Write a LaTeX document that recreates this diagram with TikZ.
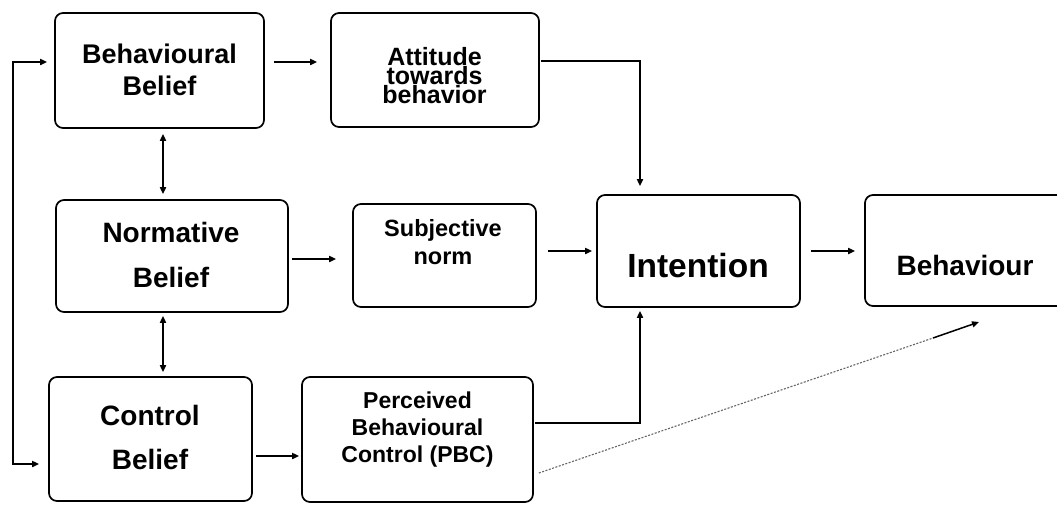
\documentclass[tikz,border=0pt]{standalone}
\usepackage{fontspec}
\setmainfont{Liberation Sans}
\usetikzlibrary{arrows.meta}
\tikzset{
  box/.style={draw=black, line width=1.7pt, rounded corners=8pt, fill=white, inner sep=0pt},
  lbl/.style={align=center, inner sep=0pt, font=\bfseries},
  arr/.style={line width=1.7pt, -{Triangle[length=7pt,width=6pt]}},
  darr/.style={line width=1.7pt, {Triangle[length=7pt,width=6pt]}-{Triangle[length=7pt,width=6pt]}},
  dots/.style={draw=black!60, line width=1.1pt, dash pattern=on 2pt off 1.5pt}
}
\begin{document}
\begin{tikzpicture}[x=1pt,y=-1pt]
  \useasboundingbox (0,0) rectangle (1057,504);
  \clip (0,0) rectangle (1057,504);

  % boxes
  \node[box, minimum width=209pt, minimum height=115pt] (bb)  at (159.5,70.5) {};
  \node[box, minimum width=208pt, minimum height=114pt] (att) at (435,70) {};
  \node[box, minimum width=232pt, minimum height=112pt] (nb)  at (172,256) {};
  \node[box, minimum width=183pt, minimum height=103pt] (sn)  at (444.5,255.5) {};
  \node[box, minimum width=203pt, minimum height=112pt] (int) at (698.5,251) {};
  \node[box, minimum width=200pt, minimum height=111pt] (beh) at (965,250.5) {};
  \node[box, minimum width=203pt, minimum height=124pt] (cb)  at (150.5,439) {};
  \node[box, minimum width=231pt, minimum height=125pt] (pbc) at (417.5,439.5) {};

  % labels
  \node[lbl, font=\bfseries\fontsize{27}{32}\selectfont] (bbt) at (159.5,69.5) {Behavioural\\Belief};
  \node[lbl, font=\bfseries\fontsize{25}{19}\selectfont] (attt) at (434.5,76) {Attitude\\towards\\behavior};
  \node[lbl, font=\bfseries\fontsize{28}{45}\selectfont] (nbt) at (171,254.5) {Normative\\Belief};
  \node[lbl, font=\bfseries\fontsize{23.5}{28}\selectfont] (snt) at (443,242.5) {Subjective\\norm};
  \node[lbl, font=\bfseries\fontsize{33.5}{40}\selectfont] (intt) at (698,265.5) {Intention};
  \node[lbl, font=\bfseries\fontsize{28}{34}\selectfont] (beht) at (965,265) {Behaviour};
  \node[lbl, font=\bfseries\fontsize{28}{44}\selectfont] (cbt) at (150,437.5) {Control\\Belief};
  \node[lbl, font=\bfseries\fontsize{23}{27}\selectfont] (pbct) at (417.5,430) {Perceived\\Behavioural\\Control (PBC)};

  % connectors
  \draw[arr, shorten <=9pt, shorten >=13pt] (bb.east |- 0,62) -- (att.west |- 0,62);
  \draw[arr, shorten <=1pt, shorten >=8pt] (att.east |- 0,61) -| ([xshift=-58.5pt]int.north);
  \draw[darr, shorten <=5pt, shorten >=5pt] (bb.south -| 163,0) -- (nb.north -| 163,0);
  \draw[darr, shorten <=3pt, shorten >=4pt] (nb.south -| 163,0) -- (cb.north -| 163,0);
  \draw[arr, shorten <=3pt, shorten >=16pt] (nb.east |- 0,259) -- (sn.west |- 0,259);
  \draw[arr, shorten <=11pt, shorten >=4pt] (sn.east |- 0,251) -- (int.west |- 0,251);
  \draw[arr, shorten <=10pt, shorten >=9pt] (int.east |- 0,251) -- (beh.west |- 0,251);
  \draw[arr, shorten <=3pt, shorten >=2pt] (cb.east |- 0,456) -- (pbc.west |- 0,456);
  \draw[arr, shorten <=1pt, shorten >=3pt] (pbc.east |- 0,423) -| ([xshift=-58.5pt]int.south);

  % feedback loop on the left
  \coordinate (loop) at (13,0);
  \draw[darr, shorten <=7pt, shorten >=9pt]
    (bb.west |- 0,62) -- (loop |- 0,62) -- (loop |- 0,464) -- (cb.west |- 0,464);

  % dotted link from PBC towards behaviour
  \coordinate (dotend) at (933,338);
  \coordinate (tipend) at (979,322);
  \draw[dots] ([xshift=5pt]pbc.east |- 0,473) -- (dotend);
  \draw[arr, line width=1.5pt] (dotend) -- (tipend);
\end{tikzpicture}
\end{document}
